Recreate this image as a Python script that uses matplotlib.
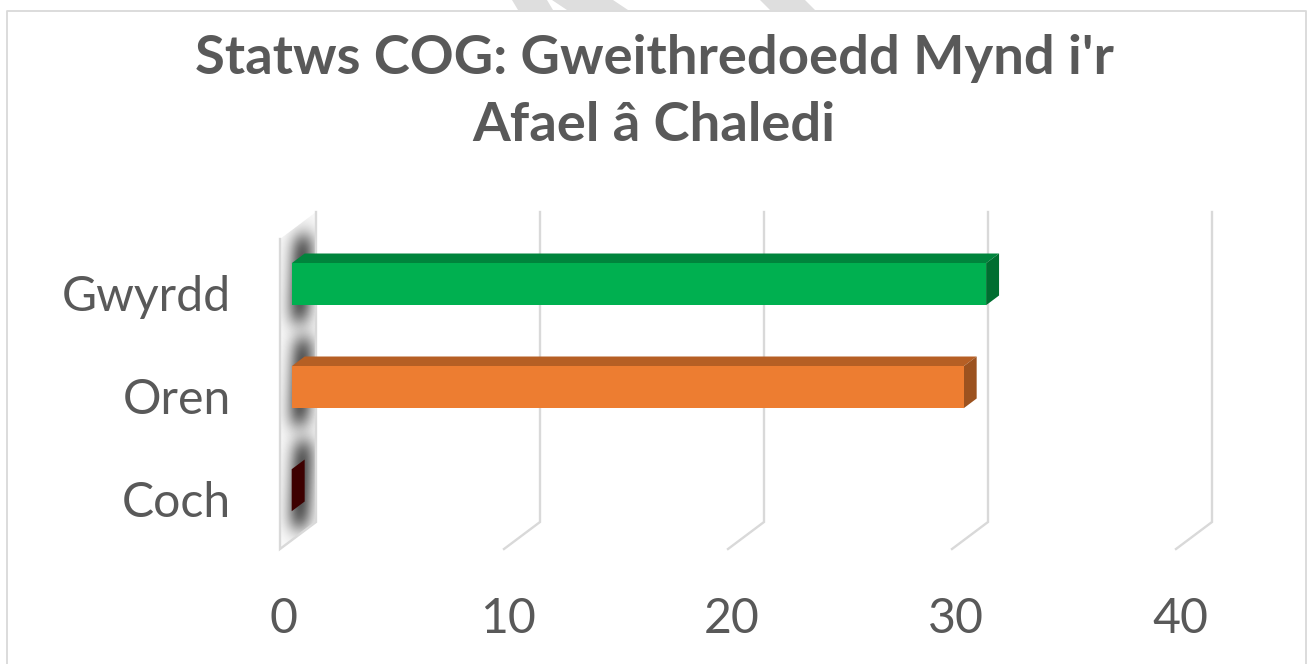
import numpy as np
import matplotlib
matplotlib.use('Agg')
import matplotlib.pyplot as plt
from matplotlib.patches import Polygon
from matplotlib.lines import Line2D

# ---------------- data ----------------
categories = ['Gwyrdd', 'Oren', 'Coch']
values = [31, 30, 0]
xticks = [0, 10, 20, 30, 40]
xtick_labels = ['0', '10', '20', '30', '40']
title = "Statws COG: Gweithredoedd Mynd i'r\nAfael \u00e2 Chaledi"

front_colors = ['#00B050', '#ED7D31', '#3D0000']
top_colors = ['#00843C', '#B65F24', '#2E0000']
side_colors = ['#006E30', '#9C521F', '#3D0000']
text_color = '#595959'
grid_color = '#D9D9D9'

W, H = 1308, 664
fig = plt.figure(figsize=(W / 100, H / 100), dpi=100)
fig.patch.set_facecolor('white')
ax = fig.add_axes([0, 0, 1, 1])

PX = 22.4      # px per value unit
PY = 103.0     # px per category step
X0 = 316       # back-plane zero (px)
Y0 = 266       # back-plane centre of first category (px)
ax.set_xlim(-X0 / PX, (W - X0) / PX)
ax.set_ylim((H - Y0) / PY, -Y0 / PY)
ax.axis('off')

DX = -36 / PX   # full-depth shift (value units)
DY = 27 / PY    # full-depth shift (category units)


def P(v, k, f):
    return (v + DX * f, k + DY * f)


ktop = (212 - Y0) / PY
kbot = (522 - Y0) / PY

# ---- left wall ----
wall = Polygon([P(0, ktop, 0), P(0, kbot, 0), P(0, kbot, 1), P(0, ktop, 1)],
               closed=True, facecolor='#FAFAFA', edgecolor='none', zorder=1)
ax.add_patch(wall)

# ---- shadows on the wall ----
f1, f0 = 0.675, 0.315
half = 21 / PY
for i, cat in enumerate(categories):
    cy = Y0 + PY * i + 27 * f1          # px centre of front face
    xs = np.linspace(270, 326, 120)
    ys = np.linspace(cy - 80, cy + 70, 240)
    XX, YY = np.meshgrid(xs, ys)
    # follow the wall's slant a little
    xc = 301 - (YY - cy) * 0.05
    ax_prof = np.exp(-((XX - xc) / 13.0) ** 2)
    top_edge = cy - 48
    bot_edge = cy + 37
    vy = 1 / (1 + np.exp(-(YY - top_edge) / 6.0)) * 1 / (1 + np.exp((YY - bot_edge) / 6.0))
    alpha = 0.9 * ax_prof * vy
    img = np.zeros(XX.shape + (4,))
    img[..., :3] = 0.25
    img[..., 3] = alpha
    ext = [(xs[0] - X0) / PX, (xs[-1] - X0) / PX, (ys[-1] - Y0) / PY, (ys[0] - Y0) / PY]
    im = ax.imshow(img, extent=ext, origin='upper', aspect='auto',
                   interpolation='bilinear', zorder=2)
    im.set_clip_path(wall)

# ---- gridlines / wall edges ----
for v in xticks:
    pts = [P(v, ktop, 0), P(v, kbot, 0), P(v, kbot, 1)]
    if v == 0:
        pts = [P(0, ktop, 1), P(0, kbot, 1), P(0, kbot, 0), P(0, ktop, 0)]
    xs_, ys_ = zip(*pts)
    ax.plot(xs_, ys_, color=grid_color, lw=1.7, solid_joinstyle='miter', zorder=3)

# ---- 3D bars ----
for i, (val, fc, tc, sc) in enumerate(zip(values, front_colors, top_colors, side_colors)):
    k = i
    top = Polygon([P(0, k - half, f1), P(val, k - half, f1), P(val, k - half, f0), P(0, k - half, f0)],
                  closed=True, facecolor=tc, edgecolor='none', zorder=5)
    side = Polygon([P(val, k - half, f1), P(val, k + half, f1), P(val, k + half, f0), P(val, k - half, f0)],
                   closed=True, facecolor=sc, edgecolor='none', zorder=5)
    ax.add_patch(top)
    ax.add_patch(side)
    ax.barh(k + DY * f1, val, left=DX * f1, height=2 * half, color=fc,
            edgecolor='none', linewidth=0, zorder=6)

# ---- labels ----
cat_texts = []
for i, cat in enumerate(categories):
    t = ax.text((231 - X0) / PX, i + DY * f1 + 27 / PY, cat, ha='right', va='baseline',
                color=text_color, fontsize=30, family='Lato', zorder=7)
    cat_texts.append(t)
tick_texts = []
for v, lab in zip(xticks, xtick_labels):
    t = ax.text(v + DX + 4 / PX, (633 - Y0) / PY, lab, ha='center', va='baseline',
                color=text_color, fontsize=30, family='Lato', zorder=7)
    tick_texts.append(t)

ttl = fig.text(0.5, 1 - 141 / H, title, ha='center', va='baseline', color=text_color,
               fontsize=36, fontweight='bold', family='Lato', linespacing=1.45)

# fit text sizes to reference widths
fig.canvas.draw()
r = fig.canvas.get_renderer()
bw = cat_texts[0].get_window_extent(r).width
fs = 30 * 169 / bw
for t in cat_texts + tick_texts:
    t.set_fontsize(fs)
tw = ttl.get_window_extent(r).width
ttl.set_fontsize(36 * 918 / tw)

# ---- chart border ----
def fx(x):
    return x / W


def fy(y):
    return 1 - y / H


fig.add_artist(Line2D([fx(7), fx(7), fx(1306), fx(1306)], [fy(700), fy(11), fy(11), fy(700)],
                      color=grid_color, lw=1.3, transform=fig.transFigure))
# faint watermark fragments above the border
for poly in [[(512, 0), (547, 0), (553, 10), (518, 10)],
             [(552, 0), (613, 0), (628, 10), (567, 10)],
             [(760, 0), (805, 0), (815, 10), (770, 10)]]:
    fig.add_artist(Polygon([(fx(a), fy(b)) for a, b in poly], closed=True,
                           facecolor='#DEDEDE', edgecolor='none', transform=fig.transFigure))

fig.savefig('out.png', dpi=100, facecolor='white')
